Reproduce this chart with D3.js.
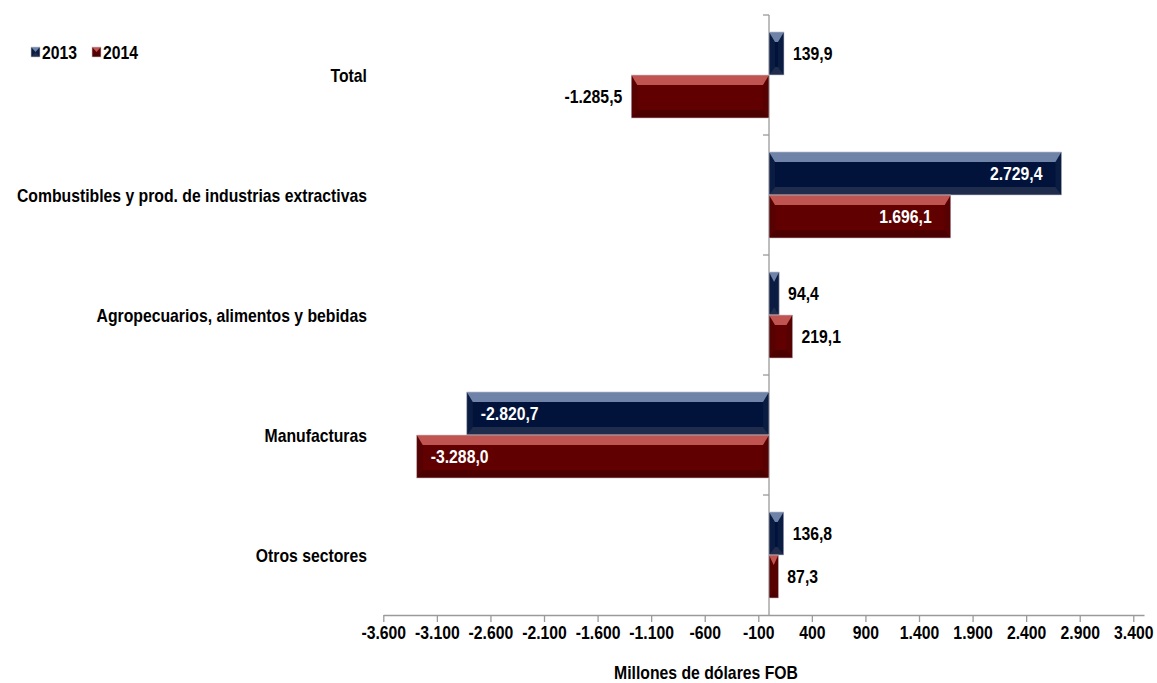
<!DOCTYPE html>
<html>
<head>
<meta charset="utf-8">
<script src="https://cdn.jsdelivr.net/npm/d3@7.9.0/dist/d3.min.js"></script>
<style>
  body { margin: 0; background: #fff; }
  svg text { font-family: "Liberation Sans", Arial, sans-serif; font-weight: bold; }
</style>
</head>
<body>
<svg id="chart" width="1157" height="683"></svg>
<script>
// --- data ---
const categories = [
  'Total',
  'Combustibles y prod. de industrias extractivas',
  'Agropecuarios, alimentos y bebidas',
  'Manufacturas',
  'Otros sectores'
];
const seriesNames = ['2013', '2014'];
const values2013 = [139.9, 2729.4, 94.4, -2820.7, 136.8];
const values2014 = [-1285.5, 1696.1, 219.1, -3288.0, 87.3];
const tickValues = [-3600, -3100, -2600, -2100, -1600, -1100, -600, -100, 400, 900, 1400, 1900, 2400, 2900, 3400];

// colours per series: main face, top bevel, bottom bevel, side bevel
const palette = [
  { main: '#01133a', top: '#6f83a8', bottom: '#1f2c4b', side: '#0b1c42' },
  { main: '#600000', top: '#c05450', bottom: '#4c0000', side: '#570202' }
];

const FS = 19;       // font size
const NARROW = 0.83; // horizontal squeeze, the original uses a narrow face

const locale = d3.formatLocale({ decimal: ',', thousands: '.', grouping: [3], currency: ['', ''], minus: '-' });
const fmtVal = locale.format(',.1f');
const fmtTick = locale.format(',d');

const svg = d3.select('#chart');

// put a narrow text at (px, py)
function label(parent, px, py, txt, anchor, fill) {
  return parent.append('text')
    .attr('transform', `translate(${px},${py}) scale(${NARROW},1)`)
    .attr('dy', '0.35em')
    .attr('text-anchor', anchor)
    .attr('font-size', FS)
    .attr('fill', fill || '#000')
    .text(txt);
}

const x = d3.scaleLinear().domain([-3600, 3500]).range([383.3, 1144]);
const y = d3.scaleBand().domain(categories).range([15, 615]).paddingInner(0.283).paddingOuter(0.1415);
const ySub = d3.scaleBand().domain(seriesNames).range([0, y.bandwidth()]);

// --- axes ---
const xAxis = d3.axisBottom(x).tickValues(tickValues).tickFormat(fmtTick).tickSize(7).tickSizeOuter(0);
const gx = svg.append('g').attr('transform', 'translate(0,615)').call(xAxis);
gx.select('.domain').attr('stroke', '#9a9a9a').attr('stroke-width', 1.3);
gx.selectAll('.tick line').attr('stroke', '#9a9a9a').attr('stroke-width', 1.3);
gx.selectAll('.tick text')
  .attr('y', 11).attr('dy', '0.71em')
  .attr('transform', `scale(${NARROW},1)`)
  .attr('font-size', FS).attr('fill', '#000')
  .style('font-family', '"Liberation Sans", Arial, sans-serif').style('font-weight', 'bold');

// vertical category axis on the zero line
const bandEdges = categories.map(c => y(c) - y.step() * y.paddingInner() / 2);
svg.append('line')
  .attr('x1', x(0)).attr('x2', x(0)).attr('y1', 15).attr('y2', 615)
  .attr('stroke', '#9a9a9a').attr('stroke-width', 1.3);
svg.selectAll('.ytick').data(bandEdges).join('line')
  .attr('class', 'ytick')
  .attr('x1', x(0) - 6).attr('x2', x(0))
  .attr('y1', d => d).attr('y2', d => d)
  .attr('stroke', '#9a9a9a').attr('stroke-width', 1.3);

const catG = svg.append('g').attr('class', 'categories');
categories.forEach(c => label(catG, 367, y(c) + y.bandwidth() / 2, c, 'end'));

// --- bevelled bars ---
function bevelBar(g, x0, x1, y0, y1, col) {
  const w = x1 - x0, h = y1 - y0;
  const s = Math.min(6, w / 2);
  const t = Math.min(10, h / 2);
  const b = Math.min(8, h / 2);
  const pts = a => a.map(p => p.join(',')).join(' ');
  g.append('rect').attr('x', x0).attr('y', y0).attr('width', w).attr('height', h).attr('fill', col.main);
  g.append('polygon').attr('fill', col.side)
    .attr('points', pts([[x0, y0], [x0 + s, y0 + t], [x0 + s, y1 - b], [x0, y1]]));
  g.append('polygon').attr('fill', col.side)
    .attr('points', pts([[x1, y0], [x1 - s, y0 + t], [x1 - s, y1 - b], [x1, y1]]));
  g.append('polygon').attr('fill', col.top)
    .attr('points', pts([[x0, y0], [x1, y0], [x1 - s, y0 + t], [x0 + s, y0 + t]]));
  g.append('polygon').attr('fill', col.bottom)
    .attr('points', pts([[x0, y1], [x1, y1], [x1 - s, y1 - b], [x0 + s, y1 - b]]));
  g.append('rect').attr('x', x0).attr('y', y0).attr('width', w).attr('height', h)
    .attr('fill', 'none').attr('stroke', '#c9c9d2').attr('stroke-width', 0.6);
}

const series = [values2013, values2014];
series.forEach((vals, si) => {
  const g = svg.append('g').attr('class', 'series-' + seriesNames[si]);
  vals.forEach((v, i) => {
    const y0 = y(categories[i]) + ySub(seriesNames[si]);
    const y1 = y0 + ySub.bandwidth();
    const xa = Math.min(x(0), x(v)), xb = Math.max(x(0), x(v));
    bevelBar(g, xa, xb, y0, y1, palette[si]);

    const inside = (xb - xa) > 150;
    let lx, anchor;
    if (inside) {
      lx = v > 0 ? xb - 19 : xa + 14;
      anchor = v > 0 ? 'end' : 'start';
    } else {
      lx = v > 0 ? xb + 9 : xa - 9;
      anchor = v > 0 ? 'start' : 'end';
    }
    label(g, lx, (y0 + y1) / 2, fmtVal(v), anchor, inside ? '#fff' : '#000');
  });
});

// --- axis title ---
label(svg, 706, 672, 'Millones de dólares FOB', 'middle');

// --- legend ---
const legend = svg.append('g').attr('class', 'legend');
const legendX = [31, 92];
seriesNames.forEach((name, i) => {
  const lg = legend.append('g').attr('transform', `translate(${legendX[i]},47)`);
  bevelBar(lg, 0, 9, 0, 10, palette[i]);
  label(lg, 11, 5, name, 'start');
});
</script>
</body>
</html>
